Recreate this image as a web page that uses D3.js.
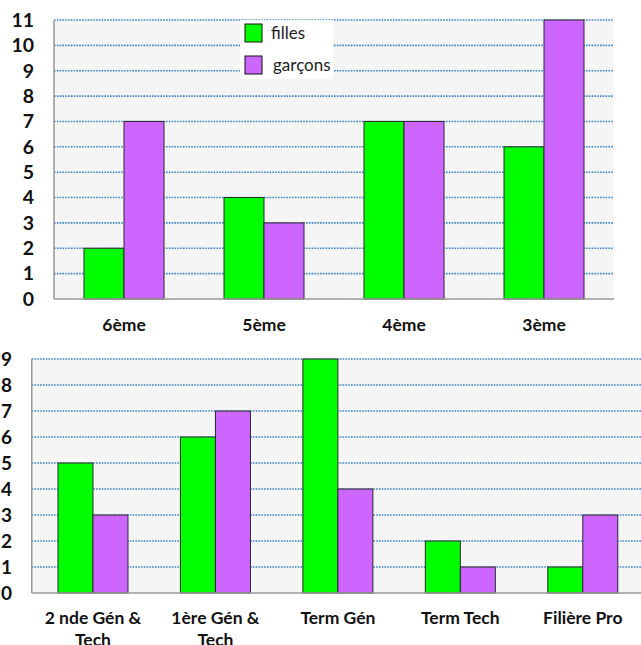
<!DOCTYPE html>
<html>
<head>
<meta charset="utf-8">
<script src="https://cdn.jsdelivr.net/npm/d3@7"></script>
<style>
  body { margin: 0; background: #fff; }
  svg { display: block; font-family: Lato, "Open Sans", sans-serif; }
</style>
</head>
<body>
<svg id="chart" width="641" height="645"></svg>
<script>
// data
var seriesNames = ['filles', 'garçons'];
var colors = ['#00ff00', '#cc66ff'];

var topCategories = ['6ème', '5ème', '4ème', '3ème'];
var topFilles = [2, 4, 7, 6];
var topGarcons = [7, 3, 7, 11];
var topTicks = [0, 1, 2, 3, 4, 5, 6, 7, 8, 9, 10, 11];

var botCategories = [['2 nde Gén &', 'Tech'], ['1ère Gén &', 'Tech'], ['Term Gén'], ['Term Tech'], ['Filière Pro']];
var botFilles = [5, 6, 9, 2, 1];
var botGarcons = [3, 7, 4, 1, 3];
var botTicks = [0, 1, 2, 3, 4, 5, 6, 7, 8, 9];

var svg = d3.select('#chart');

function drawPanel(opt) {
  var g = svg.append('g');
  var cats = opt.categories.map(function (c, i) { return i; });
  var x = d3.scaleBand().domain(cats).range([opt.left, opt.right]);
  var y = d3.scaleLinear().domain([0, opt.max]).range([opt.bottom, opt.top]);
  var inner = d3.scaleBand().domain([0, 1]).range([0, opt.barW * 2]);

  // background
  g.append('rect')
    .attr('x', opt.left).attr('y', opt.top)
    .attr('width', opt.right - opt.left).attr('height', opt.bottom - opt.top)
    .attr('fill', '#f5f5f5');

  // grid
  g.selectAll('line.grid')
    .data(opt.ticks.filter(function (t) { return t > 0; }))
    .enter().append('line')
    .attr('class', 'grid')
    .attr('x1', opt.left).attr('x2', opt.right)
    .attr('y1', function (d) { return y(d); })
    .attr('y2', function (d) { return y(d); })
    .attr('stroke', '#3a86c8')
    .attr('stroke-width', 1.6)
    .attr('stroke-dasharray', '1.6 1.2');

  // bars
  var rows = opt.categories.map(function (c, i) {
    return [opt.filles[i], opt.garcons[i]];
  });
  var groups = g.selectAll('g.grp')
    .data(rows).enter().append('g')
    .attr('transform', function (d, i) {
      return 'translate(' + (x(i) + x.bandwidth() / 2 - opt.barW) + ',0)';
    });
  groups.selectAll('rect')
    .data(function (d) { return d; })
    .enter().append('rect')
    .attr('x', function (d, j) { return inner(j); })
    .attr('y', function (d) { return y(d); })
    .attr('width', inner.bandwidth())
    .attr('height', function (d) { return opt.bottom - y(d); })
    .attr('fill', function (d, j) { return colors[j]; })
    .attr('stroke', '#2a2a2a')
    .attr('stroke-width', 1);

  // axis lines
  g.append('line')
    .attr('x1', opt.left).attr('x2', opt.left)
    .attr('y1', opt.top).attr('y2', opt.bottom)
    .attr('stroke', '#999').attr('stroke-width', 1.5);
  g.append('line')
    .attr('x1', opt.left).attr('x2', opt.right)
    .attr('y1', opt.bottom).attr('y2', opt.bottom)
    .attr('stroke', '#999').attr('stroke-width', 1.5);

  // y tick labels
  g.selectAll('text.yt')
    .data(opt.ticks).enter().append('text')
    .attr('x', opt.tickX)
    .attr('y', function (d) { return y(d); })
    .attr('dy', '0.35em')
    .attr('text-anchor', 'end')
    .attr('font-size', opt.tickSize)
    .attr('font-weight', 'bold')
    .attr('fill', '#111')
    .text(function (d) { return d; });

  // x labels
  var xl = g.selectAll('text.xl')
    .data(opt.categories).enter().append('text')
    .attr('x', function (d, i) { return x(i) + x.bandwidth() / 2; })
    .attr('y', opt.labelY)
    .attr('text-anchor', 'middle')
    .attr('font-size', 17.5)
    .attr('font-weight', 'bold')
    .attr('fill', '#111');
  xl.selectAll('tspan')
    .data(function (d) { return Array.isArray(d) ? d : [d]; })
    .enter().append('tspan')
    .attr('x', function () { return d3.select(this.parentNode).attr('x'); })
    .attr('dy', function (d, k) { return k === 0 ? 0 : 22; })
    .text(function (d) { return d; });
}

drawPanel({
  categories: topCategories, filles: topFilles, garcons: topGarcons,
  ticks: topTicks, max: 11,
  left: 54, right: 614, top: 20, bottom: 299,
  barW: 40, tickX: 34, tickSize: 19.5, labelY: 331
});

drawPanel({
  categories: botCategories, filles: botFilles, garcons: botGarcons,
  ticks: botTicks, max: 9,
  left: 31.75, right: 644, top: 359, bottom: 593,
  barW: 35, tickX: 12, tickSize: 19, labelY: 624
});

// legend
var leg = svg.append('g');
leg.append('rect')
  .attr('x', 240).attr('y', 20).attr('width', 93).attr('height', 59)
  .attr('fill', '#fff');
var li = leg.selectAll('g.li').data(seriesNames).enter().append('g')
  .attr('transform', function (d, i) { return 'translate(245,' + (24 + i * 32) + ')'; });
li.append('rect')
  .attr('width', 17).attr('height', 18)
  .attr('fill', function (d, i) { return colors[i]; })
  .attr('stroke', '#111').attr('stroke-width', 1);
li.append('text')
  .attr('x', function (d, i) { return i === 0 ? 26 : 28; })
  .attr('y', 9).attr('dy', '0.35em')
  .attr('font-size', 17)
  .attr('fill', '#222')
  .text(function (d) { return d; });
</script>
</body>
</html>
